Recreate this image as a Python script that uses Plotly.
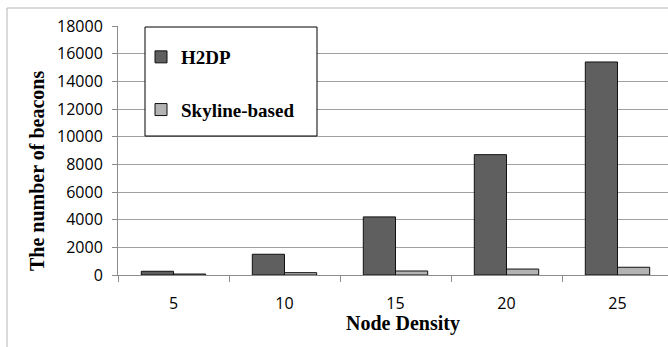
import plotly.graph_objects as go

categories = ["5", "10", "15", "20", "25"]
h2dp = [270, 1500, 4200, 8700, 15400]
skyline = [70, 170, 290, 430, 560]
y_ticks = [0, 2000, 4000, 6000, 8000, 10000, 12000, 14000, 16000, 18000]

W, H = 668, 347
L, T, B, R = 118, 26, 72, 0
pw, ph = W - L - R, H - T - B

def px_x(x):
    return (x - L) / pw

def px_y(y):
    return (H - B - y) / ph

fig = go.Figure()
fig.add_trace(go.Bar(x=categories, y=h2dp, name="H2DP", legendgroup="a",
                     marker=dict(color="#5f5f5f", line=dict(color="#111111", width=1))))
fig.add_trace(go.Bar(x=categories, y=skyline, name="Skyline-based", legendgroup="b",
                     marker=dict(color="#b3b3b3", line=dict(color="#111111", width=1))))

serif = "Liberation Serif"
sans = "Open Sans"

fig.update_layout(
    width=W, height=H,
    margin=dict(l=L, r=R, t=T, b=B, pad=0),
    paper_bgcolor="white", plot_bgcolor="white",
    barmode="group", bargap=0.42, bargroupgap=0,
    showlegend=True,
    legend=dict(x=px_x(141), y=px_y(38), xanchor="left", yanchor="top",
                bgcolor="rgba(0,0,0,0)", borderwidth=0,
                font=dict(family=serif, size=19, color="black", weight="bold"),
                tracegroupgap=25, itemwidth=30),
    xaxis=dict(type="category", range=[-0.5, -0.5 + pw / 111.0],
               showgrid=False, showline=True, linecolor="#8c8c8c", linewidth=1,
               ticks="outside", tickson="boundaries", ticklen=6, tickcolor="#8c8c8c",
               tickfont=dict(family=sans, size=16, color="black"),
               ticklabelstandoff=14),
    yaxis=dict(range=[0, 18000], tickvals=y_ticks, ticktext=[str(v) for v in y_ticks],
               showgrid=True, gridcolor="#a0a0a0", gridwidth=1,
               showline=True, linecolor="#8c8c8c", linewidth=1,
               ticks="outside", ticklen=5, tickcolor="#8c8c8c",
               tickfont=dict(family=sans, size=16, color="black"),
               ticklabelstandoff=6, zeroline=False),
    shapes=[
        dict(type="rect", xref="paper", yref="paper",
             x0=px_x(145), x1=px_x(317), y0=px_y(136), y1=px_y(27),
             fillcolor="white", line=dict(color="black", width=1), layer="above"),
        dict(type="line", xref="paper", yref="paper",
             x0=px_x(7), x1=px_x(668), y0=px_y(8), y1=px_y(8),
             line=dict(color="#b5b5b5", width=1)),
        dict(type="line", xref="paper", yref="paper",
             x0=px_x(7), x1=px_x(7), y0=px_y(8), y1=px_y(347),
             line=dict(color="#b5b5b5", width=1)),
    ],
    annotations=[
        dict(text="<b>The number of beacons</b>", xref="paper", yref="paper",
             x=px_x(37), y=px_y(171), textangle=-90, showarrow=False,
             xanchor="center", yanchor="middle",
             font=dict(family=serif, size=20, color="black")),
        dict(text="<b>Node Density</b>", xref="paper", yref="paper",
             x=px_x(403), y=px_y(323), showarrow=False,
             xanchor="center", yanchor="middle",
             font=dict(family=serif, size=20, color="black")),
    ],
)

fig.write_html("out.html")
